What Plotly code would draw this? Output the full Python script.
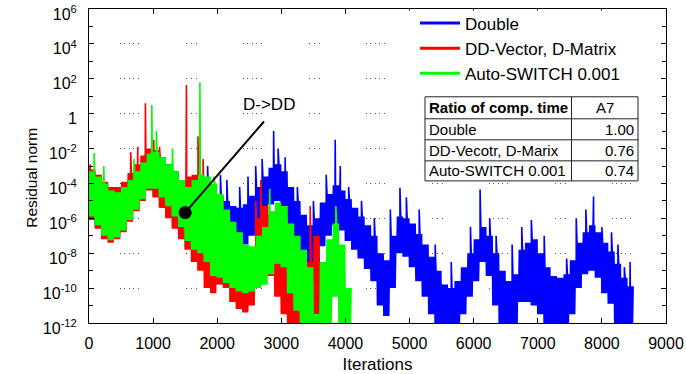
import plotly.graph_objects as go

# ---------------- data (log10 of the residual norm) ----------------
# Each series is given as an envelope per 100-iteration block (lower / upper edge of the
# noisy band) plus the isolated spikes that stick out of the band.
BLOCK = 100
SUBSTEPS = 8  # alternating low/high samples drawn inside each block

DOUBLE_NAME = "Double"
DOUBLE_START = 0
DOUBLE_LOW = [-5.9, -6.4, -7.0, -7.25, -7.1, -6.7, -6.1, -5.5, -4.9, -4.3,
              -4.3, -4.8, -5.3, -5.9, -6.5, -7.0, -7.3, -7.5, -7.6, -7.7,
              -7.8, -7.9, -8.0, -7.8, -7.5, -7.0, -6.5, -5.8, -5.2, -5.0,
              -5.6, -6.5, -7.5, -8.4, -9.2, -8.8, -7.6, -7.0, -6.4, -6.7,
              -7.3, -7.8, -8.3, -8.9, -9.6, -11.0, -11.6, -10.0, -8.0, -8.2,
              -8.8, -9.6, -10.5, -11.5, -12.5, -12.5, -12.5, -12.5, -11.5, -10.5,
              -9.6, -8.5, -9.3, -11.0, -12.5, -12.5, -12.5, -10.8, -10.8, -11.0,
              -11.5, -12.5, -12.5, -12.5, -12.5, -11.5, -10.0, -9.2, -9.0, -9.4,
              -10.3, -10.9, -12.0, -12.5, -12.5]
DOUBLE_HIGH = [-3.3, -3.6, -4.0, -4.4, -4.5, -4.2, -3.8, -3.3, -2.8, -2.3,
               -2.2, -2.5, -2.9, -3.3, -3.8, -4.0, -4.0, -4.2, -4.4, -4.5,
               -4.7, -5.0, -5.3, -5.4, -5.2, -4.7, -4.2, -3.6, -3.1, -2.9,
               -3.3, -4.2, -5.0, -5.8, -6.4, -6.0, -5.1, -4.6, -4.1, -4.4,
               -4.9, -5.4, -5.9, -6.4, -7.0, -8.0, -8.4, -7.0, -5.9, -6.0,
               -6.3, -6.9, -7.5, -8.2, -9.0, -9.8, -10.0, -9.6, -8.8, -8.0,
               -7.2, -6.5, -7.0, -8.0, -9.0, -9.6, -9.2, -7.8, -7.4, -7.2,
               -8.0, -8.8, -9.3, -9.4, -9.2, -8.4, -7.4, -6.8, -6.4, -6.8,
               -7.4, -7.9, -8.6, -9.4, -9.9]
DOUBLE_SPIKE_ITERS = [1850, 2050, 2150, 2350, 2480, 2600, 2700, 2880, 2950, 3060, 3250, 3500,
                      3700, 3840, 3920, 4050, 4250, 4450, 4700, 4850, 4950, 5150, 5400, 5650,
                      5950, 6100, 6250, 6350, 6600, 6750, 6900, 7100, 7450, 7600, 7750, 7870,
                      8000, 8150, 8250, 8350, 8440]
DOUBLE_SPIKE_LOGS = [-3.0, -3.5, -3.8, -4.2, -3.6, -3.0, -2.6, -1.0, -2.0, -2.5, -4.2, -5.0,
                     -3.5, -1.5, -3.0, -4.2, -5.0, -6.0, -5.5, -4.25, -4.8, -5.5, -7.5, -8.5,
                     -6.5, -4.35, -6.0, -7.0, -7.5, -6.5, -6.1, -7.0, -8.3, -6.0, -5.5, -4.75,
                     -6.5, -6.8, -7.5, -8.8, -8.5]

DDVEC_NAME = "DD-Vector, D-Matrix"
DDVEC_START = 0
DDVEC_LOW = [-6.1, -6.6, -7.2, -7.4, -7.2, -6.8, -6.2, -5.6, -5.0, -4.4,
             -4.8, -5.4, -6.0, -6.6, -7.2, -7.8, -8.5, -9.0, -10.0, -10.3,
             -9.8, -10.0, -10.8, -11.2, -11.4, -11.0, -9.5, -9.0, -9.3, -10.5,
             -11.5, -12.5, -12.5, -12.5, -12.5, -11.5, -12.5]
DDVEC_HIGH = [-3.2, -3.5, -3.9, -4.2, -4.2, -3.9, -3.4, -2.9, -2.4, -2.0,
              -2.1, -2.6, -3.0, -3.4, -3.9, -3.6, -3.5, -3.8, -4.5, -5.0,
              -5.5, -7.0, -8.0, -8.5, -8.6, -8.2, -6.0, -5.3, -5.8, -7.8,
              -8.3, -9.3, -10.5, -11.0, -8.5, -7.0, -10.0]
DDVEC_SPIKE_ITERS = [20, 650, 760, 880, 1010, 1100, 1520, 1700, 1780, 2600, 2680, 3450]
DDVEC_SPIKE_LOGS = [-2.9, -2.2, -1.9, 0.6, -1.5, -1.9, 1.65, -1.3, -2.6, -5.0, -3.8, -5.3]

AUTO_NAME = "Auto-SWITCH 0.001"
AUTO_START = 0
AUTO_LOW = [-5.9, -6.4, -7.0, -7.25, -7.1, -6.7, -6.1, -5.5, -4.9, -4.3,
            -4.3, -4.8, -5.3, -5.9, -6.5, -7.3, -7.8, -8.0, -8.5, -9.3,
            -9.4, -9.7, -10.0, -10.2, -10.3, -10.2, -10.0, -9.8, -9.2, -8.6,
            -8.8, -10.3, -11.3, -12.5, -12.5, -12.5, -12.5, -12.5, -10.5, -12.5,
            -12.5]
AUTO_HIGH = [-3.3, -3.6, -4.0, -4.4, -4.5, -4.2, -3.8, -3.3, -2.8, -2.3,
             -2.2, -2.5, -2.9, -3.3, -3.8, -4.2, -3.8, -3.5, -3.6, -4.0,
             -4.6, -5.5, -6.2, -6.8, -7.5, -7.6, -7.0, -6.5, -5.6, -5.1,
             -5.3, -6.3, -7.0, -7.8, -8.8, -11.5, -8.5, -7.2, -6.3, -7.5,
             -10.0]
AUTO_SPIKE_ITERS = [80, 230, 700, 980, 1050, 1300, 1730, 1950, 2820, 3850]
AUTO_SPIKE_LOGS = [-2.25, -3.0, -2.6, 0.5, -1.0, -2.0, 1.8, -3.6, -4.3, -5.3]

# switch point annotation (iteration, log10 residual) and label anchor
SWITCH_ITER, SWITCH_LOG = 1500, -5.67
LEADER_END_ITER, LEADER_END_LOG = 2730, -0.45
SWITCH_LABEL = "D->DD"
SWITCH_LABEL_ITER, SWITCH_LABEL_LOG = 2810, 0.55

# axes
X_TITLE = "Iterations"
Y_TITLE = "Residual norm"
X_TICKS = [0, 1000, 2000, 3000, 4000, 5000, 6000, 7000, 8000, 9000]
Y_TICK_EXP = [6, 4, 2, 0, -2, -4, -6, -8, -10, -12]
Y_TICK_TEXT = ["10<sup>6</sup>", "10<sup>4</sup>", "10<sup>2</sup>", "1", "10<sup>-2</sup>",
               "10<sup>-4</sup>", "10<sup>-6</sup>", "10<sup>-8</sup>", "10<sup>-10</sup>",
               "10<sup>-12</sup>"]
Y_MINOR_EXP = [5, 3, 1, -1, -3, -5, -7, -9, -11]

# table
TABLE_HEADER = ["Ratio of comp. time", "A7"]
TABLE_LABELS = ["Double", "DD-Vecotr, D-Marix", "Auto-SWITCH 0.001"]
TABLE_VALUES = ["1.00", "0.76", "0.74"]

BLUE, RED, GREEN = "#0000FF", "#FF0000", "#00FF00"
FONT = "Liberation Sans, Arial, sans-serif"


def band_path(start, low, high, spike_iters, spike_logs):
    pts = []
    for i, (lo, hi) in enumerate(zip(low, high)):
        it0 = start + i * BLOCK
        for k in range(SUBSTEPS):
            pts.append((it0 + k * BLOCK / SUBSTEPS, lo if k % 2 == 0 else hi))
    pts += list(zip(spike_iters, spike_logs))
    pts.sort(key=lambda p: p[0])
    return [p[0] for p in pts], [10 ** p[1] for p in pts]


fig = go.Figure()
SERIES = [
    (DOUBLE_NAME, BLUE, DOUBLE_START, DOUBLE_LOW, DOUBLE_HIGH, DOUBLE_SPIKE_ITERS, DOUBLE_SPIKE_LOGS),
    (DDVEC_NAME, RED, DDVEC_START, DDVEC_LOW, DDVEC_HIGH, DDVEC_SPIKE_ITERS, DDVEC_SPIKE_LOGS),
    (AUTO_NAME, GREEN, AUTO_START, AUTO_LOW, AUTO_HIGH, AUTO_SPIKE_ITERS, AUTO_SPIKE_LOGS),
]
for name, color, start, lo, hi, si, sl in SERIES:
    x, y = band_path(start, lo, hi, si, sl)
    fig.add_trace(go.Scatter(x=x, y=y, mode="lines", name=name, legendgroup=name,
                             showlegend=False,
                             line=dict(color=color, width=1.6, simplify=False)))
# legend entries (thicker line samples, same groups)
for name, color, *_ in SERIES:
    fig.add_trace(go.Scatter(x=[None], y=[None], mode="lines", name=name, legendgroup=name,
                             line=dict(color=color, width=3)))

# leader line and switch marker
fig.add_trace(go.Scatter(x=[SWITCH_ITER, LEADER_END_ITER],
                         y=[10 ** SWITCH_LOG, 10 ** LEADER_END_LOG],
                         mode="lines", line=dict(color="black", width=2),
                         showlegend=False, hoverinfo="skip"))
fig.add_trace(go.Scatter(x=[SWITCH_ITER], y=[10 ** SWITCH_LOG], mode="markers",
                         marker=dict(color="black", size=13), showlegend=False,
                         hoverinfo="skip"))

fig.add_annotation(x=SWITCH_LABEL_ITER, y=SWITCH_LABEL_LOG, xref="x", yref="y",
                   text=SWITCH_LABEL, showarrow=False, xanchor="center", yanchor="middle",
                   font=dict(size=17, color="black"))

GRID_DASH = "0px,31px,1px,3px,1px,4px,1px,3px,1px,4px,1px,47px,1px,4px,1px,4px,1px,15px"

fig.update_xaxes(range=[0, 9000], tickvals=X_TICKS, ticks="inside", ticklen=5,
                 tickcolor="black", showline=True, linecolor="black", linewidth=1,
                 mirror="ticks", showgrid=False, zeroline=False, automargin=False,
                 tickfont=dict(size=16), ticklabelstandoff=6, ticklabeloverflow="allow",
                 title=dict(text=X_TITLE, font=dict(size=17)))
fig.update_yaxes(type="log", range=[-12, 6],
                 tickvals=[10 ** e for e in Y_TICK_EXP], ticktext=Y_TICK_TEXT,
                 ticks="inside", ticklen=5, tickcolor="black",
                 showline=True, linecolor="black", linewidth=1, mirror="ticks",
                 showgrid=True, gridcolor="#555555", gridwidth=1, griddash=GRID_DASH,
                 minor=dict(tickvals=[10 ** e for e in Y_MINOR_EXP], ticks="inside",
                            ticklen=4, tickcolor="black", showgrid=False),
                 zeroline=False, automargin=False, tickfont=dict(size=16),
                 ticklabelstandoff=8, ticklabelshift=5, ticklabeloverflow="allow")

# y-axis title placed as rotated text left of the tick labels
fig.add_annotation(xref="paper", yref="paper", x=-0.099, y=0.462, text=Y_TITLE,
                   textangle=-90, showarrow=False, xanchor="center", yanchor="middle",
                   font=dict(size=15.5, color="black"))

# white backing behind the legend (hides the dotted grid there)
fig.add_shape(type="rect", xref="paper", yref="paper", x0=0.548, x1=0.985, y0=0.77, y1=0.995,
              line=dict(width=0), fillcolor="white", layer="above")

# comparison table drawn as shapes + text
TX0, TX1, TXC = 0.5823, 0.9515, 0.8362
TY = [0.7204, 0.6503, 0.5834, 0.5164, 0.4526]
fig.add_shape(type="rect", xref="paper", yref="paper", x0=TX0, x1=TX1, y0=TY[-1], y1=TY[0],
              line=dict(color="#222222", width=1), fillcolor="white", layer="above")
for yy in TY[1:-1]:
    fig.add_shape(type="line", xref="paper", yref="paper", x0=TX0, x1=TX1, y0=yy, y1=yy,
                  line=dict(color="#222222", width=1))
fig.add_shape(type="line", xref="paper", yref="paper", x0=TXC, x1=TXC, y0=TY[-1], y1=TY[0],
              line=dict(color="#222222", width=1))
fig.add_annotation(xref="paper", yref="paper", x=TX0 + 0.003, y=(TY[0] + TY[1]) / 2,
                   xanchor="left", yanchor="middle",
                   text="<b>" + TABLE_HEADER[0] + "</b>", showarrow=False,
                   font=dict(size=15, color="black"))
fig.add_annotation(xref="paper", yref="paper", x=(TXC + TX1) / 2, y=(TY[0] + TY[1]) / 2,
                   xanchor="center", yanchor="middle",
                   text=TABLE_HEADER[1], showarrow=False, font=dict(size=15, color="black"))
for i, (lab, val) in enumerate(zip(TABLE_LABELS, TABLE_VALUES)):
    yc = (TY[i + 1] + TY[i + 2]) / 2
    fig.add_annotation(xref="paper", yref="paper", x=TX0 + 0.003, y=yc, xanchor="left",
                       yanchor="middle", text=lab, showarrow=False,
                       font=dict(size=15, color="black"))
    fig.add_annotation(xref="paper", yref="paper", x=TX1 - 0.003, y=yc, xanchor="right",
                       yanchor="middle", text=val, showarrow=False,
                       font=dict(size=15, color="black"))

fig.update_layout(
    width=686, height=374,
    margin=dict(l=89, r=20, t=9, b=51, autoexpand=False),
    paper_bgcolor="white", plot_bgcolor="white",
    font=dict(family=FONT, size=16, color="black"),
    showlegend=True,
    legend=dict(x=0.565, y=1.011, xanchor="left", yanchor="top",
                bgcolor="rgba(0,0,0,0)", font=dict(size=17), itemwidth=40,
                tracegroupgap=0),
)

fig.write_html("out.html", config={"displayModeBar": False},
               post_script="document.body.style.margin='0';"
                           "document.documentElement.style.overflow='hidden';")
